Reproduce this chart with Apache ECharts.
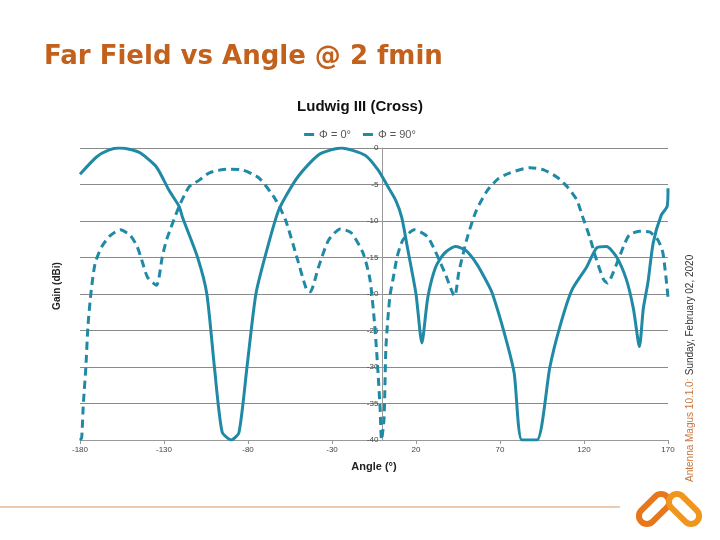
<!DOCTYPE html>
<html>
<head>
<meta charset="utf-8">
<script src="https://cdn.jsdelivr.net/npm/echarts@6/dist/echarts.min.js"></script>
<style>
  html, body { margin: 0; padding: 0; background: #fff; }
  #chart { width: 720px; height: 540px; }
</style>
</head>
<body>
<div id="chart"></div>
<script>
// Ludwig III cross-pol far field, gain (dBi) vs angle (deg)
var phi0Angle = [-180, -170, -163, -157, -150, -144, -134.5, -127, -121, -119, -110, -104.5, -100, -95.4, -90, -85.4,
    -80.6, -75.3, -68.8, -61.7, -51.7, -43, -36.3, -24.5, -10.3, -2.6, 3.3, 8, 11.5, 15.2, 20, 23.5, 27, 31.7, 37, 43.5,
    49.5, 56.5, 62.5, 65.4, 72.5, 78.4, 83, 92, 99.7, 105.6, 112.7, 121.6, 127.5, 133.4, 139.3, 145.2, 149.4, 153,
    155.3, 158, 161.2, 166, 169.5, 170];
var phi0Gain = [-3.6, -1.2, -0.3, 0, -0.2, -0.7, -2.6, -5.8, -8, -9.5, -15, -20, -30, -38.9, -40, -39,
    -30, -20, -14, -8.5, -4.4, -2, -0.7, 0, -1, -3, -5.3, -7.2, -9.5, -14, -20, -26.7, -20.5, -16.3, -14.4, -13.5,
    -14, -16, -18.5, -19.9, -25.3, -30.8, -40, -40, -30, -24.5, -19.5, -16.3, -13.7, -13.5, -14.9, -18, -22, -27.2,
    -22, -18.5, -13, -9.2, -8, -5.5];

var phi90Angle = [-180, -179, -178, -176.5, -175.3, -173.5, -171, -167, -162, -156, -150, -146, -143.3, -139.8, -134.5,
    -131, -128.5, -121, -115, -109, -103, -93, -83.6, -73.5, -63.5, -57.6, -51, -45, -43, -38, -32, -25, -18.6,
    -11.5, -7.4, -4.5, -2.6, -1.4, -0.5, 1, 2.1, 4.4, 6.3, 8.8, 12.2, 19, 27, 37, 43, 45.5, 50.6, 56, 62.5, 69, 76,
    88, 96, 104, 110, 115.7, 119, 123.4, 127, 131.6, 134, 137.5, 143.5, 147, 153, 159, 164, 167, 170];
var phi90Gain = [-40, -39.7, -35, -30, -24.5, -19.9, -15.8, -13.5, -12, -11.2, -12, -13.5, -15.3, -17.7, -18.8,
    -14.9, -12.6, -8, -5.3, -4.4, -3.4, -2.9, -3, -4.1, -7.1, -9.9, -14.9, -19.5, -19.7, -16.3, -12.6, -11.1, -11.6,
    -14.4, -18, -24.5, -30.8, -35.5, -40, -37, -27.3, -20.4, -18, -14.9, -12.6, -11.2, -12.2, -17, -20.3, -17, -12.2,
    -8.5, -5.8, -4.2, -3.4, -2.7, -3, -4, -5.3, -7.1, -9.3, -12.2, -15, -18, -18.5, -17, -13.5, -11.9, -11.4, -11.5,
    -12.6, -14.4, -20.4];

var seriesNames = ['\u03A6 = 0\u00B0', '\u03A6 = 90\u00B0'];

function pairs(xs, ys) {
    var out = [];
    for (var i = 0; i < xs.length; i++) {
        out.push([xs[i], ys[i]]);
    }
    return out;
}

var lineColor = '#2089a6';
var gridLeft = 80, gridRight = 52;
var plotWidth = 720 - gridLeft - gridRight;
// y axis sits at angle 0, inside the plot
var yAxisOffset = -plotWidth * 180 / 350;

var chart = echarts.init(document.getElementById('chart'));

var option = {
    animation: false,
    backgroundColor: '#fff',
    title: {
        text: 'Ludwig III (Cross)',
        left: 'center',
        top: 94,
        textStyle: { fontFamily: 'Liberation Sans', fontSize: 15, fontWeight: 'bold', color: '#111' }
    },
    legend: {
        top: 124,
        left: 'center',
        itemGap: 12,
        itemWidth: 10,
        itemHeight: 3,
        icon: 'rect',
        textStyle: { fontFamily: 'Liberation Sans', fontSize: 11, color: '#555' },
        data: seriesNames
    },
    grid: { left: gridLeft, right: gridRight, top: 148, bottom: 100 },
    xAxis: {
        type: 'value',
        min: -180,
        max: 170,
        interval: 50,
        name: 'Angle (\u00B0)',
        nameLocation: 'middle',
        nameGap: 21,
        nameTextStyle: { fontFamily: 'Liberation Sans', fontSize: 11, fontWeight: 'bold', color: '#222' },
        axisLine: { onZero: false, lineStyle: { color: '#999', width: 1 } },
        axisTick: { show: true, length: 4, lineStyle: { color: '#999' } },
        axisLabel: { fontFamily: 'Liberation Sans', fontSize: 8, color: '#444', margin: 6 },
        splitLine: { show: false }
    },
    yAxis: {
        type: 'value',
        min: -40,
        max: 0,
        interval: 5,
        position: 'left',
        offset: yAxisOffset,
        axisLine: { show: true, onZero: false, lineStyle: { color: '#999', width: 1 } },
        axisTick: { show: true, length: 3, lineStyle: { color: '#999' } },
        axisLabel: { fontFamily: 'Liberation Sans', fontSize: 8, color: '#444', margin: 4 },
        splitLine: { show: true, lineStyle: { color: '#8a8a8a', width: 1.2 } }
    },
    graphic: [
        {
            type: 'text', left: 44, top: 44,
            style: { text: 'Far Field vs Angle @ 2 fmin', fill: '#c2601c',
                font: 'bold 26px "DejaVu Sans"' }
        },
        {
            type: 'text', x: 57, y: 286, rotation: Math.PI / 2,
            style: { text: 'Gain (dBi)', fill: '#222', align: 'center', verticalAlign: 'middle',
                font: 'bold 10px "Liberation Sans"' }
        },
        {
            type: 'text', x: 690, y: 482, rotation: Math.PI / 2,
            style: {
                text: '{a|Antenna Magus 10.1.0:} {b|Sunday, February 02, 2020}',
                align: 'left', verticalAlign: 'middle',
                rich: {
                    a: { fill: '#c8743c', font: '10px "Liberation Sans"' },
                    b: { fill: '#333', font: '10px "Liberation Sans"' }
                }
            }
        },
        {
            type: 'line',
            shape: { x1: 0, y1: 507, x2: 620, y2: 507 },
            style: { stroke: '#d9955a', lineWidth: 1 }
        },
        {
            type: 'rect', x: 654, y: 509, rotation: Math.PI / 4,
            shape: { x: -18, y: -8, width: 36, height: 16, r: 8 },
            style: { fill: 'none', stroke: '#e8761a', lineWidth: 6 }
        },
        {
            type: 'rect', x: 684, y: 509, rotation: -Math.PI / 4,
            shape: { x: -18, y: -8, width: 36, height: 16, r: 8 },
            style: { fill: 'none', stroke: '#f0961e', lineWidth: 6 }
        }
    ],
    series: [
        {
            name: seriesNames[0],
            type: 'line',
            data: pairs(phi0Angle, phi0Gain),
            showSymbol: false,
            smooth: 0.22,
            color: lineColor,
            lineStyle: { color: lineColor, width: 3 }
        },
        {
            name: seriesNames[1],
            type: 'line',
            data: pairs(phi90Angle, phi90Gain),
            showSymbol: false,
            smooth: 0.22,
            color: lineColor,
            lineStyle: { color: lineColor, width: 3, type: [8, 5] }
        }
    ]
};

chart.setOption(option);
</script>
</body>
</html>
